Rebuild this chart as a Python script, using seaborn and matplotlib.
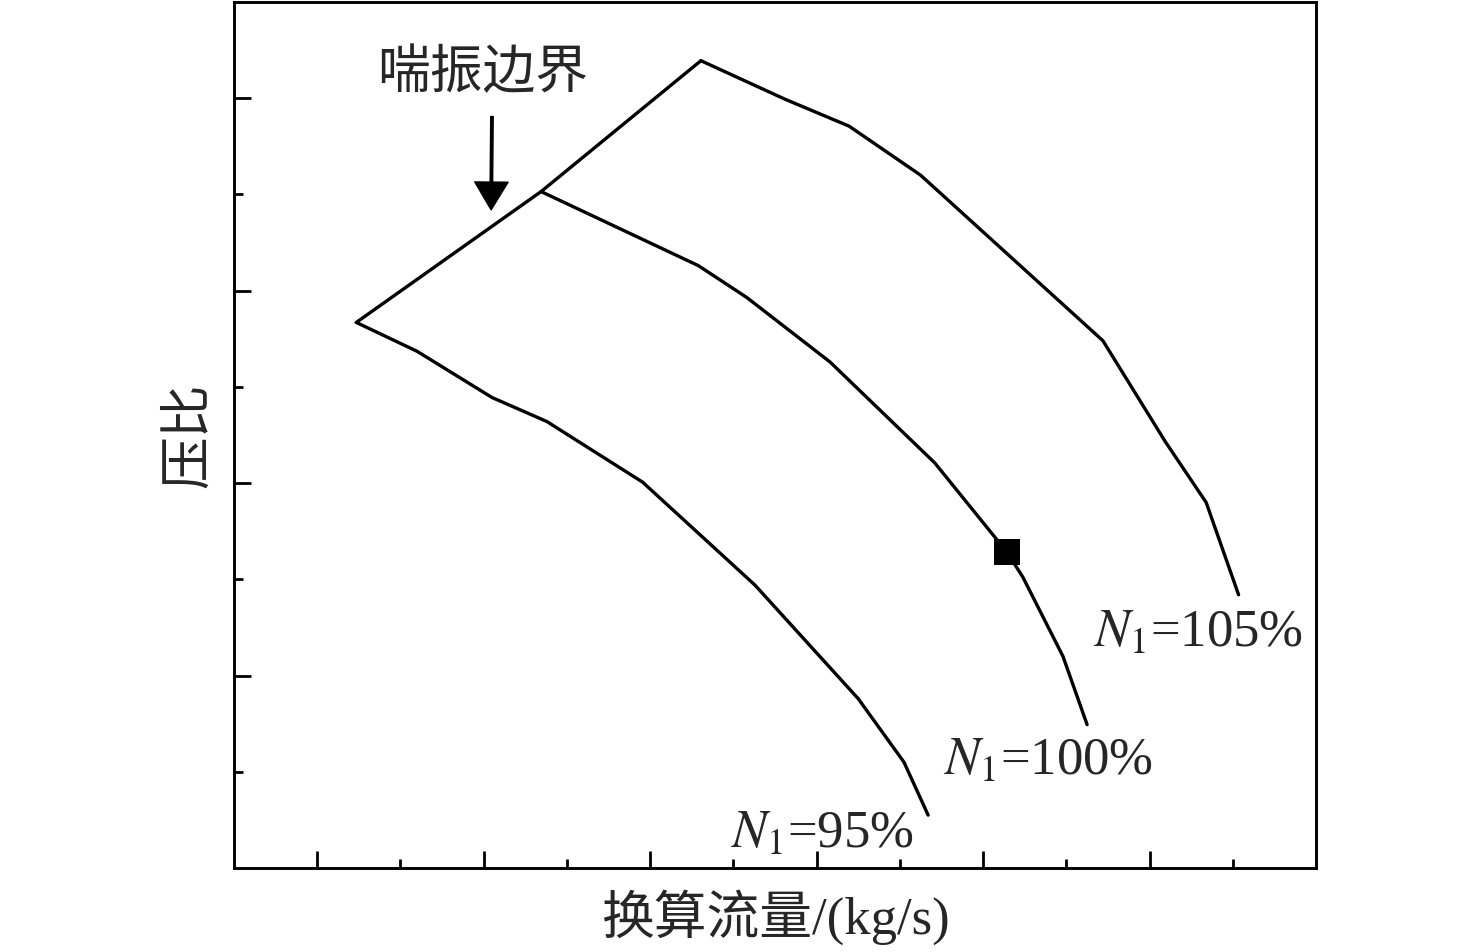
import matplotlib
matplotlib.use("Agg")
import matplotlib.pyplot as plt
import pandas as pd
import seaborn as sns

# compressor map (axis units, the original has no tick labels)
surge_x = [1.47, 3.69, 5.61]
surge_y = [5.67, 7.03, 8.39]

n95_x = [1.47, 2.20, 3.10, 3.76, 4.91, 6.26, 7.50, 8.05, 8.34]
n95_y = [5.67, 5.37, 4.89, 4.64, 4.01, 2.94, 1.76, 1.10, 0.55]

n100_x = [3.69, 5.58, 6.16, 7.16, 8.42, 9.29, 9.48, 9.96, 10.25]
n100_y = [7.03, 6.26, 5.93, 5.26, 4.21, 3.28, 3.02, 2.20, 1.49]

n105_x = [5.61, 6.62, 7.39, 8.25, 10.44, 11.19, 11.68, 12.07]
n105_y = [8.39, 7.99, 7.71, 7.20, 5.48, 4.43, 3.80, 2.84]

# design point on the 100% line
point_x = [9.29]
point_y = [3.28]

speed_labels = ["95%", "100%", "105%"]

sns.set_theme(style="ticks")
plt.rcParams["font.family"] = ["Liberation Serif", "Noto Sans CJK SC"]
plt.rcParams["mathtext.fontset"] = "stix"
plt.rcParams["axes.unicode_minus"] = False

fig = plt.figure(figsize=(14.76, 9.52), dpi=100)
ax = fig.add_axes([0.1585, 0.0882, 0.7331, 0.9097])

lw = 2.4
for xs, ys in [(surge_x, surge_y), (n95_x, n95_y), (n100_x, n100_y), (n105_x, n105_y)]:
    sns.lineplot(x=xs, y=ys, sort=False, color="black", lw=lw, ax=ax, estimator=None)

sns.scatterplot(x=point_x, y=point_y, marker="s", s=360, color="black",
                edgecolor="black", linewidth=0, ax=ax, zorder=5)

ax.set_xlim(0, 13)
ax.set_ylim(0, 9)
ax.set_xticks([1, 3, 5, 7, 9, 11])
ax.set_xticks([2, 4, 6, 8, 10, 12], minor=True)
ax.set_yticks([2, 4, 6, 8])
ax.set_yticks([1, 3, 5, 7], minor=True)
ax.tick_params(which="both", direction="in", top=False, right=False,
               labelbottom=False, labelleft=False, color="black", width=2.0)
ax.tick_params(which="major", length=12.5)
ax.tick_params(which="minor", length=6.5)
for sp in ax.spines.values():
    sp.set_linewidth(2.1)
    sp.set_color("black")

fs = 38
ax.set_xlabel("换算流量/(kg/s)", fontsize=fs, labelpad=15)
ax.set_ylabel("压比", fontsize=fs, labelpad=14)

# speed line labels
ax.text(5.96, 0.21, r"$N_1$=" + speed_labels[0], fontsize=fs, ha="left", va="baseline")
ax.text(8.52, 0.97, r"$N_1$=" + speed_labels[1], fontsize=fs, ha="left", va="baseline")
ax.text(10.32, 2.30, r"$N_1$=" + speed_labels[2], fontsize=fs, ha="left", va="baseline")

# surge line annotation
ax.text(2.99, 8.25, "喘振边界", fontsize=fs, ha="center", va="center")
ax.annotate("", xy=(3.09, 6.84), xytext=(3.10, 7.81),
            arrowprops=dict(facecolor="black", edgecolor="black", width=1.8,
                            headwidth=24, headlength=20, shrink=0))

fig.savefig("out.png", dpi=100)
plt.close(fig)
